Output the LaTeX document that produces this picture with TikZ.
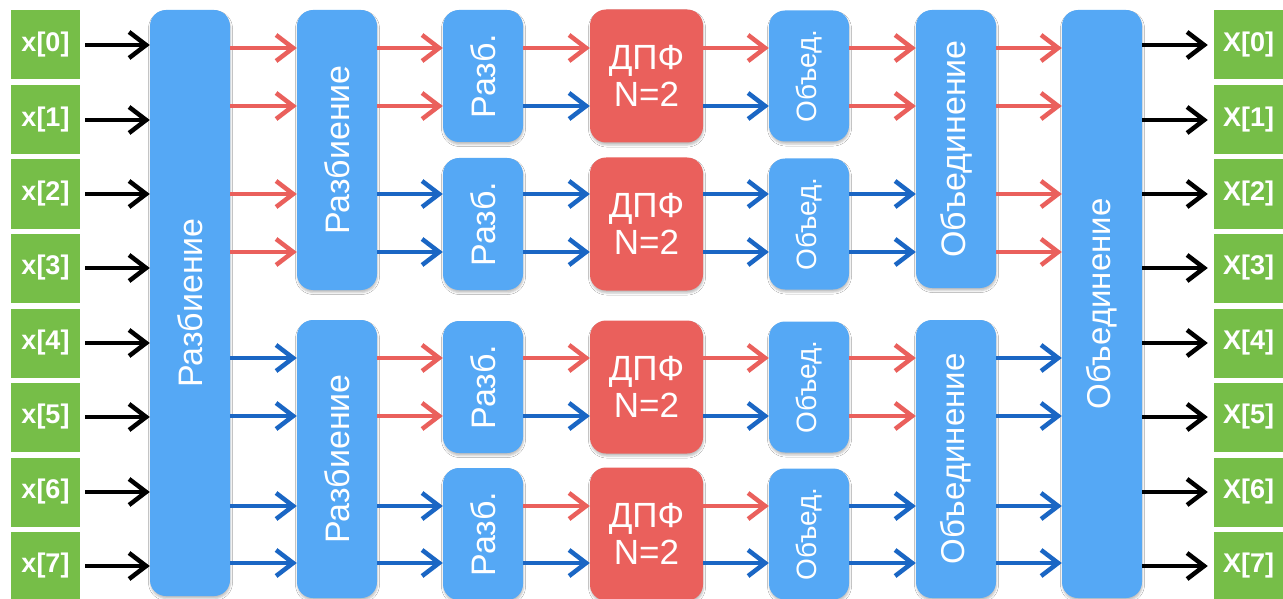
\documentclass[tikz,border=0pt]{standalone}
\usepackage{fontspec}
\setmainfont{Liberation Sans}
\usepackage{graphicx}
\usetikzlibrary{arrows.meta,shadows.blur}

\definecolor{boxblue}{HTML}{55A8F5}
\definecolor{boxred}{HTML}{EA605C}
\definecolor{boxgreen}{HTML}{76BE48}
\definecolor{linered}{HTML}{EA605C}
\definecolor{lineblue}{HTML}{1A66C4}

\tikzset{
  blk/.style={fill=boxblue,rounded corners=16pt,text=white,inner sep=0pt,
    minimum width=80pt,font=\fontsize{34}{37}\selectfont,
    blur shadow={shadow xshift=0.5pt,shadow yshift=-2.5pt,shadow blur radius=2pt,shadow opacity=25}},
  dft/.style={blk,fill=boxred,minimum width=113pt,align=center,font=\fontsize{35}{37}\selectfont},
  sample/.style={fill=boxgreen,text=white,inner sep=0pt,minimum width=69pt,minimum height=69pt,
    font=\fontsize{27}{30}\selectfont\bfseries},
  flow/.style={line width=4.5pt,-{Straight Barb[length=17pt,width=26pt]}},
}

\begin{document}
\begin{tikzpicture}[x=1pt,y=-1pt]
\fill[white] (0,0) rectangle (1283,599);
\useasboundingbox (0,0) rectangle (1283,599);

% input and output samples
\begin{scope}[every node/.style=sample]
  \foreach \i/\y in {0/45,1/120,2/194,3/268,4/343,5/417,6/492,7/566}{
    \node (x\i) at (45.5,\y) {x[\i]};
    \node (X\i) at (1248.5,\y) {X[\i]};
  }
\end{scope}

% splitting
\node[blk,minimum height=586pt] (split1) at (190,303) {\rotatebox{90}{Разбиение}};
\node[blk,minimum height=280pt] (split2-1) at (337,150) {\rotatebox{90}{Разбиение}};
\node[blk,minimum height=278pt] (split2-2) at (337,459) {\rotatebox{90}{Разбиение}};
\foreach \q/\y in {1/76,2/224,3/387,4/534}{
  \node[blk,minimum height=132pt] (split3-\q) at (483,\y) {\rotatebox{90}{Разб.}};
  \node[dft,minimum height=133pt] (dft-\q) at (646.5,\y) {ДПФ\\N=2};
  \node[blk,minimum height=131pt,font=\fontsize{28}{30}\selectfont] (merge3-\q) at (809,\y) {\rotatebox{90}{Объед.}};
}

% merging
\node[blk,minimum height=278pt] (merge2-1) at (956,149) {\rotatebox{90}{Объединение}};
\node[blk,minimum height=278pt,font=\fontsize{33}{36}\selectfont] (merge2-2) at (956,459) {\rotatebox{90}{Объединение}};
\node[blk,minimum height=588pt,font=\fontsize{33}{36}\selectfont] (merge1) at (1102,304) {\rotatebox{90}{Объединение}};

% lanes
\foreach \k/\y in {1/48,2/106,3/194,4/252,5/358,6/416,7/506,8/563}
  \coordinate (l\k) at (0,\y);

\foreach \i in {0,...,7}{
  \draw[flow,black,shorten <=5pt] (x\i.east) -- (split1.west |- x\i.east);
  \draw[flow,black,shorten >=6pt] (merge1.east |- X\i.west) -- (X\i.west);
}

% split1 -> split2
\foreach \k/\c in {1/linered,2/linered,3/linered,4/linered,5/lineblue,6/lineblue,7/lineblue,8/lineblue}{
  \pgfmathtruncatemacro\h{(\k+3)/4}
  \draw[flow,\c] (split1.east |- l\k) -- (split2-\h.west |- l\k);
}
% split2 -> split3
\foreach \k/\c in {1/linered,2/linered,3/lineblue,4/lineblue,5/linered,6/linered,7/lineblue,8/lineblue}{
  \pgfmathtruncatemacro\h{(\k+3)/4}
  \pgfmathtruncatemacro\q{(\k+1)/2}
  \draw[flow,\c] (split2-\h.east |- l\k) -- (split3-\q.west |- l\k);
}
% split3 -> dft -> merge3
\foreach \k/\c in {1/linered,2/lineblue,3/lineblue,4/lineblue,5/linered,6/lineblue,7/linered,8/lineblue}{
  \pgfmathtruncatemacro\q{(\k+1)/2}
  \draw[flow,\c] (split3-\q.east |- l\k) -- (dft-\q.west |- l\k);
  \draw[flow,\c] (dft-\q.east |- l\k) -- (merge3-\q.west |- l\k);
}
% merge3 -> merge2
\foreach \k/\c in {1/linered,2/linered,3/lineblue,4/lineblue,5/linered,6/linered,7/lineblue,8/lineblue}{
  \pgfmathtruncatemacro\h{(\k+3)/4}
  \pgfmathtruncatemacro\q{(\k+1)/2}
  \draw[flow,\c] (merge3-\q.east |- l\k) -- (merge2-\h.west |- l\k);
}
% merge2 -> merge1
\foreach \k/\c in {1/linered,2/linered,3/linered,4/linered,5/lineblue,6/lineblue,7/lineblue,8/lineblue}{
  \pgfmathtruncatemacro\h{(\k+3)/4}
  \draw[flow,\c] (merge2-\h.east |- l\k) -- (merge1.west |- l\k);
}
\end{tikzpicture}
\end{document}
